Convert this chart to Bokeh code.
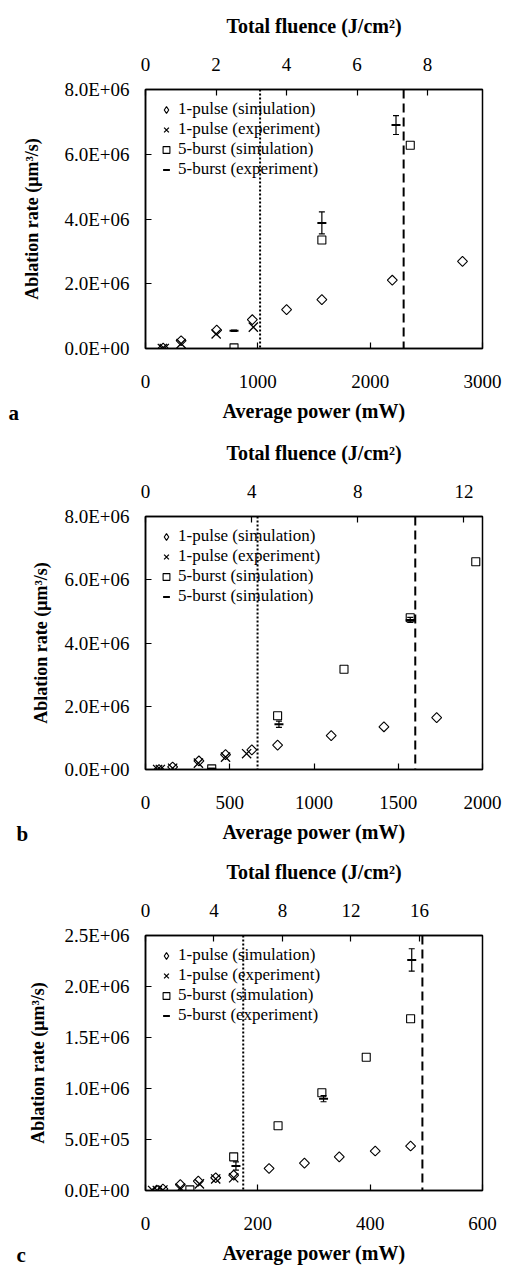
from bokeh.plotting import figure
from bokeh.models import (Range1d, LinearAxis, FixedTicker, Span, Whisker, ColumnDataSource,
                          Legend, LegendItem, Label, TeeHead)
from bokeh.layouts import column
from bokeh.embed import file_html
from bokeh.resources import INLINE

# ---------------- data ----------------
legend_labels_a = ["1-pulse (simulation)", "1-pulse (experiment)", "5-burst (simulation)", "5-burst (experiment)"]
legend_labels_b = ["1-pulse (simulation)", "1-pulse (experiment)", "5-burst (simulation)", "5-burst (simulation)"]
legend_labels_c = ["1-pulse (simulation)", "1-pulse (experiment)", "5-burst (simulation)", "5-burst (experiment)"]

# panel a
a_sim1_x = [157, 317, 634, 951, 1256, 1570, 2197, 2822]
a_sim1_y = [0.01e6, 0.24e6, 0.57e6, 0.89e6, 1.20e6, 1.51e6, 2.11e6, 2.69e6]
a_exp1_x = [150, 167, 317, 629, 960]
a_exp1_y = [0.0, 0.0, 0.15e6, 0.45e6, 0.66e6]
a_sim5_x = [788, 1570, 2357]
a_sim5_y = [0.02e6, 3.35e6, 6.28e6]
a_exp5_x = [788, 1570, 2230]
a_exp5_y = [0.55e6, 3.88e6, 6.90e6]
a_exp5_err = [0.02e6, 0.34e6, 0.29e6]
a_thresholds = [1020, 2298]

# panel b
b_sim1_x = [80, 161, 317, 475, 631, 784, 1102, 1415, 1728]
b_sim1_y = [0.0, 0.08e6, 0.27e6, 0.47e6, 0.62e6, 0.77e6, 1.07e6, 1.35e6, 1.64e6]
b_exp1_x = [72, 88, 161, 314, 475, 600]
b_exp1_y = [0.0, 0.0, 0.04e6, 0.20e6, 0.39e6, 0.50e6]
b_sim5_x = [393, 784, 1178, 1571, 1960]
b_sim5_y = [0.02e6, 1.70e6, 3.17e6, 4.80e6, 6.57e6]
b_exp5_x = [393, 792, 1571]
b_exp5_y = [0.02e6, 1.43e6, 4.73e6]
b_exp5_err = [0.02e6, 0.10e6, 0.08e6]
b_thresholds = [665, 1601]

# panel c
c_sim1_x = [20, 31, 62, 94, 125, 157, 220, 283, 345, 409, 472]
c_sim1_y = [0.005e6, 0.015e6, 0.058e6, 0.092e6, 0.125e6, 0.15e6, 0.216e6, 0.268e6, 0.33e6, 0.387e6, 0.436e6]
c_exp1_x = [12.7, 21, 31, 62, 96, 125, 157]
c_exp1_y = [0.0, 0.0, 0.005e6, 0.025e6, 0.065e6, 0.113e6, 0.125e6]
c_sim5_x = [79, 157, 236, 314, 393, 472]
c_sim5_y = [0.006e6, 0.33e6, 0.635e6, 0.958e6, 1.306e6, 1.684e6]
c_exp5_x = [161, 317, 474]
c_exp5_y = [0.24e6, 0.90e6, 2.26e6]
c_exp5_err = [0.04e6, 0.03e6, 0.11e6]
c_thresholds = [174, 493]

# axes
a_xticks = [0, 1000, 2000, 3000]
a_yticks = [0, 2e6, 4e6, 6e6, 8e6]
a_ytick_labels = ["0.0E+00", "2.0E+06", "4.0E+06", "6.0E+06", "8.0E+06"]
a_fticks = [0, 2, 4, 6, 8]
b_xticks = [0, 500, 1000, 1500, 2000]
b_yticks = [0, 2e6, 4e6, 6e6, 8e6]
b_ytick_labels = ["0.0E+00", "2.0E+06", "4.0E+06", "6.0E+06", "8.0E+06"]
b_fticks = [0, 4, 8, 12]
c_xticks = [0, 200, 400, 600]
c_yticks = [0, 0.5e6, 1.0e6, 1.5e6, 2.0e6, 2.5e6]
c_ytick_labels = ["0.0E+00", "5.0E+05", "1.0E+06", "1.5E+06", "2.0E+06", "2.5E+06"]
c_fticks = [0, 4, 8, 12, 16]

FONT = "Liberation Serif"


def make_panel(letter, height, borders, xmax, ymax, fmax, xticks, yticks, ylabels, fticks,
               sim1, exp1, sim5, exp5, thresholds, labels, ytitle_standoff):
    top, right, bottom, left = borders
    p = figure(width=511, height=height, output_backend="svg", toolbar_location=None,
               x_range=Range1d(0, xmax), y_range=Range1d(0, ymax),
               min_border_top=top, min_border_right=right, min_border_bottom=bottom,
               min_border_left=left)
    p.grid.visible = False
    p.outline_line_color = "black"
    p.outline_line_width = 1.5

    p.extra_x_ranges = {"fl": Range1d(0, fmax)}
    top_axis = LinearAxis(x_range_name="fl", axis_label="Total fluence (J/cm²)")
    p.add_layout(top_axis, "above")

    for ax in p.axis:
        ax.major_tick_in = 6
        ax.major_tick_out = 0
        ax.minor_tick_line_color = None
        ax.axis_line_color = "black"
        ax.axis_line_width = 1.5
        ax.major_tick_line_width = 1.2
        ax.major_label_text_font = FONT
        ax.major_label_text_font_size = "19px"
        ax.major_label_text_color = "black"
        ax.axis_label_text_font = FONT
        ax.axis_label_text_font_style = "bold"
        ax.axis_label_text_color = "black"

    for ax in p.xaxis:
        if ax is top_axis:
            continue
        ax.ticker = FixedTicker(ticks=xticks)
        ax.axis_label = "Average power (mW)"
        ax.axis_label_text_font_size = "20px"
        ax.major_label_standoff = 26
        ax.axis_label_standoff = 9
    top_axis.ticker = FixedTicker(ticks=fticks)
    top_axis.axis_label_text_font_size = "20px"
    top_axis.major_label_standoff = 19
    top_axis.axis_label_standoff = 18

    ya = p.yaxis[0]
    ya.ticker = FixedTicker(ticks=yticks)
    ya.major_label_overrides = {float(t): l for t, l in zip(yticks, ylabels)}
    ya.axis_label = "Ablation rate (μm³/s)"
    ya.axis_label_text_font_size = "18px"
    ya.major_label_standoff = 16
    ya.axis_label_standoff = ytitle_standoff

    # threshold lines
    p.add_layout(Span(location=thresholds[0], dimension="height", line_color="black",
                      line_width=2, line_dash="2 2"))
    p.add_layout(Span(location=thresholds[1], dimension="height", line_color="black",
                      line_width=2, line_dash="9 5"))

    p.scatter(sim1[0], sim1[1], marker="square", angle=0.785398, size=7,
              fill_color="white", fill_alpha=0, line_color="black", line_width=1.1)
    r1 = p.scatter(sim1[0], sim1[1], marker="diamond", size=12, visible=False,
                   fill_alpha=0, line_color="black", line_width=1.1)
    r2 = p.scatter(exp1[0], exp1[1], marker="x", size=13, line_color="black", line_width=1.3)
    r3 = p.scatter(sim5[0], sim5[1], marker="square", size=8,
                   fill_color="white", fill_alpha=0, line_color="black", line_width=1.1)
    ex, ey, ee = exp5
    src = ColumnDataSource(dict(x=ex, y=ey,
                                upper=[v + e for v, e in zip(ey, ee)],
                                lower=[v - e for v, e in zip(ey, ee)]))
    p.add_layout(Whisker(base="x", upper="upper", lower="lower", source=src, dimension="height",
                         line_color="black", line_width=1.2,
                         upper_head=TeeHead(size=6, line_color="black", line_width=1.2),
                         lower_head=TeeHead(size=6, line_color="black", line_width=1.2)))
    r4 = p.scatter("x", "y", source=src, marker="dash", size=9, line_color="black", line_width=2)

    legend = Legend(items=[LegendItem(label=labels[i], renderers=[r])
                           for i, r in enumerate([r1, r2, r3, r4])],
                    location="top_left")
    legend.label_text_font = FONT
    legend.label_text_font_size = "17px"
    legend.label_text_color = "black"
    legend.glyph_width = 22
    legend.glyph_height = 17
    legend.label_height = 16
    legend.label_standoff = 1
    legend.spacing = 0
    legend.padding = 0
    legend.margin = 10
    legend.border_line_color = None
    legend.background_fill_alpha = 0
    legend.inactive_fill_alpha = 0
    p.add_layout(legend)

    p.add_layout(Label(x=0, y=-64, x_units="screen", y_units="screen",
                       text=letter, text_font=FONT, text_font_style="bold",
                       text_font_size="21px", text_color="black", text_baseline="middle"), "left")
    return p


pa = make_panel("a", 425, (89, 29, 77, 145), 3000, 8e6, 9.56, a_xticks, a_yticks,
                a_ytick_labels, a_fticks,
                (a_sim1_x, a_sim1_y), (a_exp1_x, a_exp1_y), (a_sim5_x, a_sim5_y),
                (a_exp5_x, a_exp5_y, a_exp5_err), a_thresholds, legend_labels_a, 19)
pb = make_panel("b", 420, (91, 25, 74, 135), 2000, 8e6, 12.7, b_xticks, b_yticks,
                b_ytick_labels, b_fticks,
                (b_sim1_x, b_sim1_y), (b_exp1_x, b_exp1_y), (b_sim5_x, b_sim5_y),
                (b_exp5_x, b_exp5_y, b_exp5_err), b_thresholds, legend_labels_b, 10)
pc = make_panel("c", 421, (90, 24, 73, 139), 600, 2.5e6, 19.68, c_xticks, c_yticks,
                c_ytick_labels, c_fticks,
                (c_sim1_x, c_sim1_y), (c_exp1_x, c_exp1_y), (c_sim5_x, c_sim5_y),
                (c_exp5_x, c_exp5_y, c_exp5_err), c_thresholds, legend_labels_c, 13)

layout = column(pa, pb, pc, spacing=0)
open("out.html", "w").write(file_html(layout, INLINE))
